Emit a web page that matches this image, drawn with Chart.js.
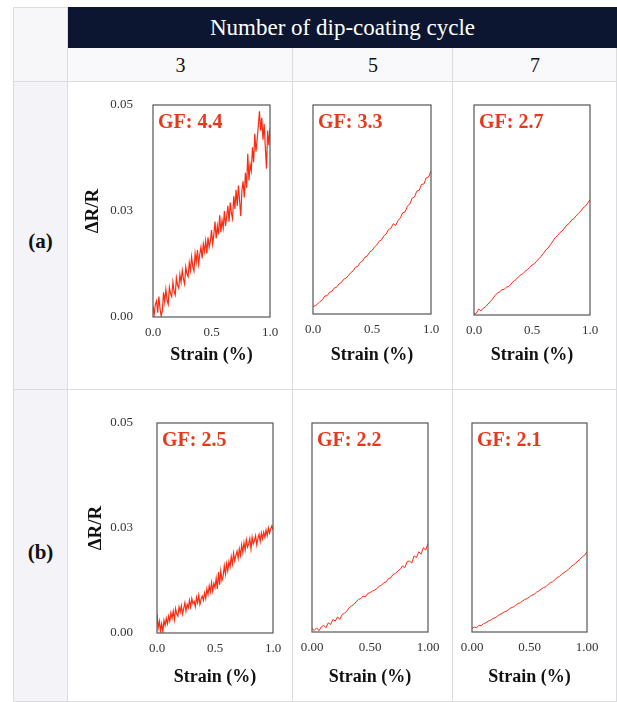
<!DOCTYPE html>
<html>
<head>
<meta charset="utf-8">
<script src="https://cdn.jsdelivr.net/npm/chart.js@4/dist/chart.umd.min.js"></script>
<style>
  body { margin: 0; background: #fff; font-family: 'Liberation Serif', 'Times New Roman', serif; }
  #page { position: relative; width: 617px; height: 702px; overflow: hidden; }
  .cell { position: absolute; box-sizing: border-box; border-right: 1px solid #dcdcdf; border-bottom: 1px solid #dcdcdf; }
  .lab { position: absolute; text-align: center; }
  canvas { position: absolute; }
</style>
</head>
<body>
<div id="page">
  <!-- table frame -->
  <div class="cell" style="left:13px;top:7px;width:55px;height:75px;background:#f7f7fa;border-left:1px solid #dcdcdf;border-top:1px solid #dcdcdf;"></div>
  <div class="cell" style="left:13px;top:82px;width:55px;height:308px;background:#f4f4f8;border-left:1px solid #dcdcdf;"></div>
  <div class="cell" style="left:13px;top:390px;width:55px;height:312px;background:#f4f4f8;border-left:1px solid #dcdcdf;"></div>
  <div class="cell" style="left:68px;top:7px;width:549px;height:41px;background:#0d1630;border:none;"></div>
  <div class="cell" style="left:68px;top:48px;width:225px;height:34px;background:#f9f9fb;"></div>
  <div class="cell" style="left:293px;top:48px;width:160px;height:34px;background:#f9f9fb;"></div>
  <div class="cell" style="left:453px;top:48px;width:164px;height:34px;background:#f9f9fb;"></div>
  <div class="cell" style="left:68px;top:82px;width:225px;height:308px;"></div>
  <div class="cell" style="left:293px;top:82px;width:160px;height:308px;"></div>
  <div class="cell" style="left:453px;top:82px;width:164px;height:308px;"></div>
  <div class="cell" style="left:68px;top:390px;width:225px;height:312px;"></div>
  <div class="cell" style="left:293px;top:390px;width:160px;height:312px;"></div>
  <div class="cell" style="left:453px;top:390px;width:164px;height:312px;"></div>

  <div class="lab" style="left:68px;top:13px;width:549px;font-size:23px;color:#fff;line-height:30px;">Number of dip-coating cycle</div>
  <div class="lab" style="left:68px;top:52px;width:225px;font-size:20px;color:#111;line-height:26px;">3</div>
  <div class="lab" style="left:293px;top:52px;width:160px;font-size:20px;color:#111;line-height:26px;">5</div>
  <div class="lab" style="left:453px;top:52px;width:164px;font-size:20px;color:#111;line-height:26px;">7</div>
  <div class="lab" style="left:13px;top:227px;width:55px;font-size:21px;font-weight:bold;color:#111;line-height:28px;">(a)</div>
  <div class="lab" style="left:13px;top:538px;width:55px;font-size:21px;font-weight:bold;color:#111;line-height:28px;">(b)</div>

  <canvas id="a3" width="219" height="293" style="left:75px;top:77px;"></canvas>
  <canvas id="a5" width="166" height="277" style="left:289px;top:93px;"></canvas>
  <canvas id="a7" width="164" height="277" style="left:450px;top:93px;"></canvas>
  <canvas id="b3" width="219" height="301" style="left:78px;top:391px;"></canvas>
  <canvas id="b5" width="164" height="281" style="left:288px;top:411px;"></canvas>
  <canvas id="b7" width="163" height="281" style="left:448px;top:411px;"></canvas>
</div>
<script>
// strain grids (%)
var strainFine = [0,0.01,0.02,0.03,0.04,0.05,0.06,0.07,0.08,0.09,0.10,0.11,0.12,0.13,0.14,0.15,0.16,0.17,0.18,0.19,0.20,
  0.21,0.22,0.23,0.24,0.25,0.26,0.27,0.28,0.29,0.30,0.31,0.32,0.33,0.34,0.35,0.36,0.37,0.38,0.39,0.40,
  0.41,0.42,0.43,0.44,0.45,0.46,0.47,0.48,0.49,0.50,0.51,0.52,0.53,0.54,0.55,0.56,0.57,0.58,0.59,0.60,
  0.61,0.62,0.63,0.64,0.65,0.66,0.67,0.68,0.69,0.70,0.71,0.72,0.73,0.74,0.75,0.76,0.77,0.78,0.79,0.80,
  0.81,0.82,0.83,0.84,0.85,0.86,0.87,0.88,0.89,0.90,0.91,0.92,0.93,0.94,0.95,0.96,0.97,0.98,0.99,1.00];
var strainCoarse = [0,0.02,0.04,0.06,0.08,0.10,0.12,0.14,0.16,0.18,0.20,0.22,0.24,0.26,0.28,0.30,0.32,0.34,0.36,0.38,0.40,
  0.42,0.44,0.46,0.48,0.50,0.52,0.54,0.56,0.58,0.60,0.62,0.64,0.66,0.68,0.70,0.72,0.74,0.76,0.78,0.80,
  0.82,0.84,0.86,0.88,0.90,0.92,0.94,0.96,0.98,1.00];

// dR/R values, row (a)
var dR_a3 = [0.0025,0.0005,0.0030,0.0038,0.0010,0.0048,0.0020,0.0002,0.0015,0.0058,0.0035,
  0.0065,0.0040,0.0030,0.0070,0.0055,0.0048,0.0082,0.0060,0.0052,0.0092,
  0.0075,0.0068,0.0100,0.0082,0.0110,0.0090,0.0078,0.0118,0.0102,0.0095,
  0.0128,0.0110,0.0142,0.0118,0.0108,0.0150,0.0130,0.0158,0.0125,0.0148,
  0.0165,0.0138,0.0172,0.0155,0.0180,0.0150,0.0188,0.0165,0.0178,0.0205,
  0.0172,0.0195,0.0225,0.0185,0.0215,0.0195,0.0240,0.0200,0.0228,0.0210,
  0.0250,0.0215,0.0238,0.0262,0.0225,0.0270,0.0245,0.0232,0.0285,0.0255,
  0.0300,0.0262,0.0310,0.0275,0.0238,0.0298,0.0320,0.0282,0.0340,0.0305,
  0.0385,0.0322,0.0360,0.0345,0.0400,0.0365,0.0432,0.0390,0.0418,0.0450,
  0.0485,0.0440,0.0470,0.0418,0.0455,0.0400,0.0350,0.0440,0.0405,0.0445,0.0395];
var dR_a5 = [0.0018,0.0020,0.0024,0.0030,0.0034,0.0043,0.0044,0.0052,0.0054,0.0062,0.0064,
  0.0072,0.0075,0.0083,0.0086,0.0092,0.0099,0.0103,0.0112,0.0114,0.0123,
  0.0127,0.0136,0.0139,0.0148,0.0152,0.0160,0.0165,0.0174,0.0177,0.0187,
  0.0191,0.0202,0.0205,0.0216,0.0212,0.0223,0.0230,0.0242,0.0244,0.0258,
  0.0263,0.0277,0.0280,0.0294,0.0296,0.0310,0.0311,0.0326,0.0328,0.0342];
var dR_a7 = [0.0002,0.0004,0.0014,0.0010,0.0016,0.0020,0.0026,0.0032,0.0038,0.0046,0.0052,
  0.0055,0.0060,0.0061,0.0066,0.0068,0.0074,0.0080,0.0084,0.0090,0.0095,
  0.0098,0.0104,0.0108,0.0113,0.0119,0.0122,0.0128,0.0134,0.0140,0.0147,
  0.0155,0.0160,0.0168,0.0176,0.0184,0.0189,0.0196,0.0200,0.0207,0.0214,
  0.0218,0.0226,0.0229,0.0236,0.0242,0.0247,0.0255,0.0259,0.0266,0.0275];

// dR/R values, row (b)
var dR_b3 = [0.0045,0.0012,0.0028,0.0005,0.0022,0.0002,0.0030,0.0018,0.0035,0.0022,0.0040,
  0.0028,0.0048,0.0035,0.0052,0.0032,0.0058,0.0045,0.0040,0.0062,0.0050,
  0.0065,0.0045,0.0058,0.0072,0.0052,0.0068,0.0060,0.0078,0.0062,0.0082,
  0.0070,0.0075,0.0062,0.0085,0.0072,0.0090,0.0068,0.0080,0.0088,0.0078,
  0.0095,0.0082,0.0105,0.0092,0.0112,0.0098,0.0120,0.0100,0.0118,0.0108,
  0.0130,0.0105,0.0145,0.0115,0.0148,0.0125,0.0135,0.0160,0.0140,0.0165,
  0.0148,0.0170,0.0158,0.0182,0.0165,0.0190,0.0172,0.0185,0.0195,0.0178,
  0.0200,0.0185,0.0210,0.0192,0.0215,0.0198,0.0222,0.0205,0.0212,0.0225,
  0.0200,0.0228,0.0212,0.0220,0.0232,0.0210,0.0225,0.0235,0.0218,0.0238,
  0.0225,0.0240,0.0228,0.0245,0.0232,0.0250,0.0238,0.0248,0.0255,0.0245,0.0282];
var dR_b5 = [0.0008,0.0004,0.0010,0.0003,0.0012,0.0016,0.0010,0.0022,0.0018,0.0030,0.0026,
  0.0036,0.0030,0.0042,0.0045,0.0050,0.0058,0.0062,0.0066,0.0072,0.0078,
  0.0080,0.0086,0.0084,0.0092,0.0094,0.0098,0.0100,0.0104,0.0110,0.0112,
  0.0118,0.0120,0.0128,0.0130,0.0138,0.0140,0.0146,0.0150,0.0158,0.0154,
  0.0168,0.0170,0.0165,0.0182,0.0178,0.0192,0.0186,0.0202,0.0196,0.0212];
var dR_b7 = [0.0008,0.0012,0.0010,0.0016,0.0015,0.0020,0.0022,0.0026,0.0028,0.0032,0.0034,
  0.0038,0.0042,0.0044,0.0048,0.0050,0.0054,0.0058,0.0060,0.0064,0.0068,
  0.0070,0.0074,0.0078,0.0080,0.0084,0.0088,0.0090,0.0095,0.0098,0.0102,
  0.0106,0.0108,0.0113,0.0118,0.0120,0.0125,0.0130,0.0133,0.0138,0.0142,
  0.0146,0.0150,0.0156,0.0160,0.0164,0.0170,0.0174,0.0180,0.0184,0.0192];

var gfLabels = {a3: 'GF: 4.4', a5: 'GF: 3.3', a7: 'GF: 2.7', b3: 'GF: 2.5', b5: 'GF: 2.2', b7: 'GF: 2.1'};
var yTickLabels = ['0.00', '0.03', '0.05'];
var xTicksOne = ['0.0', '0.5', '1.0'];
var xTicksTwo = ['0.00', '0.50', '1.00'];

Chart.defaults.font.family = "'Liberation Serif', 'Times New Roman', serif";
Chart.defaults.color = '#333';

// box around plot + GF label
var framePlugin = {
  id: 'frame',
  afterDatasetsDraw: function(chart) {
    var a = chart.chartArea, ctx = chart.ctx;
    ctx.save();
    ctx.strokeStyle = '#555';
    ctx.lineWidth = 1.2;
    ctx.strokeRect(a.left, a.top, a.right - a.left, a.bottom - a.top);
    ctx.fillStyle = '#e8381c';
    ctx.font = "bold 20px 'Liberation Serif', serif";
    ctx.textBaseline = 'middle';
    ctx.fillText(chart.options.plugins.frame.gf, a.left + 5, a.top + 18);
    ctx.restore();
  }
};

function makeChart(id, strain, values, xLabels, showY, yW, xH, yPad, padTop, lw) {
  var pts = strain.map(function(s, i) { return {x: s, y: values[i]}; });
  new Chart(document.getElementById(id), {
    type: 'line',
    data: { datasets: [{ data: pts, borderColor: '#ff2a10', borderWidth: lw, pointRadius: 0, tension: 0 }] },
    plugins: [framePlugin],
    options: {
      responsive: false,
      animation: false,
      layout: { padding: { top: padTop, right: 24, left: 0, bottom: 0 } },
      plugins: { legend: { display: false }, tooltip: { enabled: false }, frame: { gf: gfLabels[id] } },
      scales: {
        x: {
          type: 'linear', min: 0, max: 1,
          grid: { display: false, drawTicks: false },
          border: { display: false },
          ticks: { stepSize: 0.5, autoSkip: false, maxRotation: 0, padding: 8, font: { size: 13 },
            callback: function(v, i) { return xLabels[i]; } },
          title: { display: true, text: 'Strain (%)', color: '#111', font: { size: 18, weight: 'bold' }, padding: { top: 0, bottom: 4 } },
          afterFit: function(s) { s.height = xH; }
        },
        y: {
          min: 0, max: 0.05,
          grid: { display: false, drawTicks: false },
          border: { display: false },
          ticks: { display: showY, stepSize: 0.025, padding: yPad, font: { size: 13 },
            callback: function(v, i) { return yTickLabels[i]; } },
          title: { display: showY, text: 'ΔR/R', color: '#111', font: { size: 19, weight: 'bold' }, padding: { top: 7, bottom: 0 } },
          afterFit: function(s) { s.width = yW; }
        }
      }
    }
  });
}

makeChart('a3', strainFine, dR_a3, xTicksOne, true, 78, 53, 20, 28, 1.2);
makeChart('a5', strainCoarse, dR_a5, xTicksOne, false, 24, 56, 0, 12, 1);
makeChart('a7', strainCoarse, dR_a7, xTicksOne, false, 24, 55, 0, 12, 1);
makeChart('b3', strainFine, dR_b3, xTicksOne, true, 79, 59, 24, 32, 1.2);
makeChart('b5', strainCoarse, dR_b5, xTicksTwo, false, 24, 60, 0, 12, 1);
makeChart('b7', strainCoarse, dR_b7, xTicksTwo, false, 24, 60, 0, 12, 1);
</script>
</body>
</html>
